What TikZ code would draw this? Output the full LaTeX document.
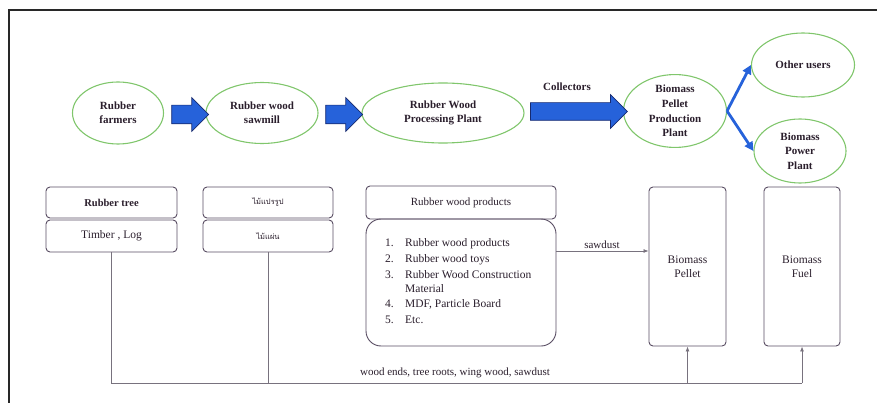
\documentclass[tikz,border=0pt]{standalone}
\usepackage{fontspec}
\usepackage{array}
\setmainfont{Liberation Serif}
\newfontfamily\thaifont[Script=Thai]{Loma}
\usetikzlibrary{shapes.geometric,shapes.arrows,arrows.meta}

\definecolor{ink}{RGB}{42,30,44}
\definecolor{leaf}{RGB}{128,198,108}
\definecolor{flowblue}{RGB}{38,98,218}
\definecolor{flowedge}{RGB}{22,42,112}
\definecolor{boxedge}{RGB}{88,76,98}
\definecolor{wire}{RGB}{120,114,126}
\definecolor{frame}{RGB}{40,40,40}

\tikzset{
  stage/.style={ellipse, draw=leaf, line width=1.1pt, inner sep=0pt, align=center,
    text=ink, font=\fontsize{11}{14}\selectfont\bfseries},
  blockarrow/.style={single arrow, fill=flowblue, draw=flowedge, line width=0.7pt,
    inner xsep=0pt, single arrow tip angle=90, single arrow head indent=0pt},
  fork/.style={draw=flowblue, line width=2.8pt,
    -{Triangle[length=9pt,width=9pt]}},
  tag/.style={draw=boxedge, line width=0.9pt, rounded corners=4pt, inner sep=0pt,
    align=center, text=ink, font=\fontsize{11.5}{14}\selectfont},
  feed/.style={draw=wire, line width=0.8pt},
  feedarrow/.style={feed, -{Latex[length=5pt,width=4pt]}},
  note/.style={text=ink, inner sep=0pt, font=\fontsize{11}{13}\selectfont},
}

\begin{document}
\begin{tikzpicture}[x=1pt,y=-1pt]
\useasboundingbox (0,0) rectangle (877,403);

% outer frame
\draw[frame, line width=2pt] (9,403) -- (9,10) -- (877,10);

% supply chain stages
\node[stage, minimum width=91pt, minimum height=62pt] (farmers) at (118,113) {Rubber\\farmers};
\node[stage, minimum width=112pt, minimum height=61pt] (sawmill) at (262,113) {Rubber wood\\sawmill};
\node[stage, minimum width=162pt, minimum height=60pt] (plant) at (443,113) {Rubber Wood\\Processing Plant};
\node[stage, minimum width=103pt, minimum height=62pt, font=\fontsize{11}{14.6}\selectfont\bfseries] (pellet) at (675,111) {Biomass\\Pellet\\Production\\Plant};
\node[stage, minimum width=103pt, minimum height=64pt] (others) at (803,65) {Other users};
\node[stage, minimum width=92pt, minimum height=64pt, font=\fontsize{11}{14.5}\selectfont\bfseries] (power) at (800,151) {Biomass\\Power\\Plant};

% block arrows between stages
\node[blockarrow, inner ysep=9pt, single arrow head extend=7.5pt, minimum height=37pt] (a1) at (185.5,114.5) {};
\node[blockarrow, inner ysep=9pt, single arrow head extend=7.5pt, minimum height=37pt] (a2) at (339.5,114.5) {};
\node[blockarrow, inner ysep=8.5pt, single arrow head extend=8pt, minimum height=97pt] (a3) at (574.5,111.5) {};
\node[text=ink, inner sep=0pt, font=\fontsize{11}{13}\selectfont\bfseries] (collectors) at (567,87) {Collectors};

% split towards end users
\coordinate (split) at (pellet.east);
\draw[fork] (split) -- (others.west);
\draw[fork] (split) -- (power.west);

% products and residues
\node[tag, minimum width=131pt, minimum height=31pt, font=\fontsize{10.5}{13}\selectfont\bfseries] (tree) at (111.5,202.5) {Rubber tree};
\node[tag, minimum width=131pt, minimum height=32pt] (timber) at (111.5,236) {Timber , Log};
\node[tag, minimum width=130pt, minimum height=31pt, font=\fontsize{7.5}{9}\thaifont] (lumber) at (268,202.5) {ไม้แปรรูป};
\node[tag, minimum width=130pt, minimum height=32pt, font=\fontsize{7.5}{9}\thaifont] (boards) at (268,236) {ไม้แผ่น};
\node[tag, minimum width=190pt, minimum height=33pt, font=\fontsize{11}{13}\selectfont] (products) at (461,202.5) {Rubber wood products};
\node[tag, rounded corners=15pt, minimum width=190pt, minimum height=127pt] (list) at (461,282.5) {};
\node[note, anchor=base west, font=\fontsize{11.5}{14}\selectfont] (items) at (385,247)
  {\begin{tabular}[t]{@{}p{20pt}@{}>{\raggedright\arraybackslash}p{142pt}@{}}
   1. & Rubber wood products\\[2pt]
   2. & Rubber wood toys\\[2pt]
   3. & Rubber Wood Construction Material\\[2pt]
   4. & MDF, Particle Board\\[2pt]
   5. & Etc.
   \end{tabular}};
\node[tag, minimum width=77pt, minimum height=159pt] (pelletbox) at (687.5,266.5) {Biomass\\Pellet};
\node[tag, minimum width=76pt, minimum height=159pt] (fuel) at (802,266.5) {Biomass\\Fuel};

% sawdust to pellets
\draw[feedarrow] (list.east |- 0,251) -- (pelletbox.west |- 0,251);
\node[note] (sawdust) at (602,245) {sawdust};

% residue collection line
\coordinate (busL) at (timber.south |- 0,383);
\coordinate (busR) at (fuel.south |- 0,383);
\draw[feed] (timber.south) -- (busL) -- (busR);
\draw[feed] (boards.south) -- (boards.south |- busL);
\draw[feedarrow] (busR) -- (fuel.south);
\draw[feedarrow] (pelletbox.south |- busL) -- (pelletbox.south);
\node[note] (residues) at (455,373) {wood ends, tree roots, wing wood, sawdust};
\end{tikzpicture}
\end{document}
